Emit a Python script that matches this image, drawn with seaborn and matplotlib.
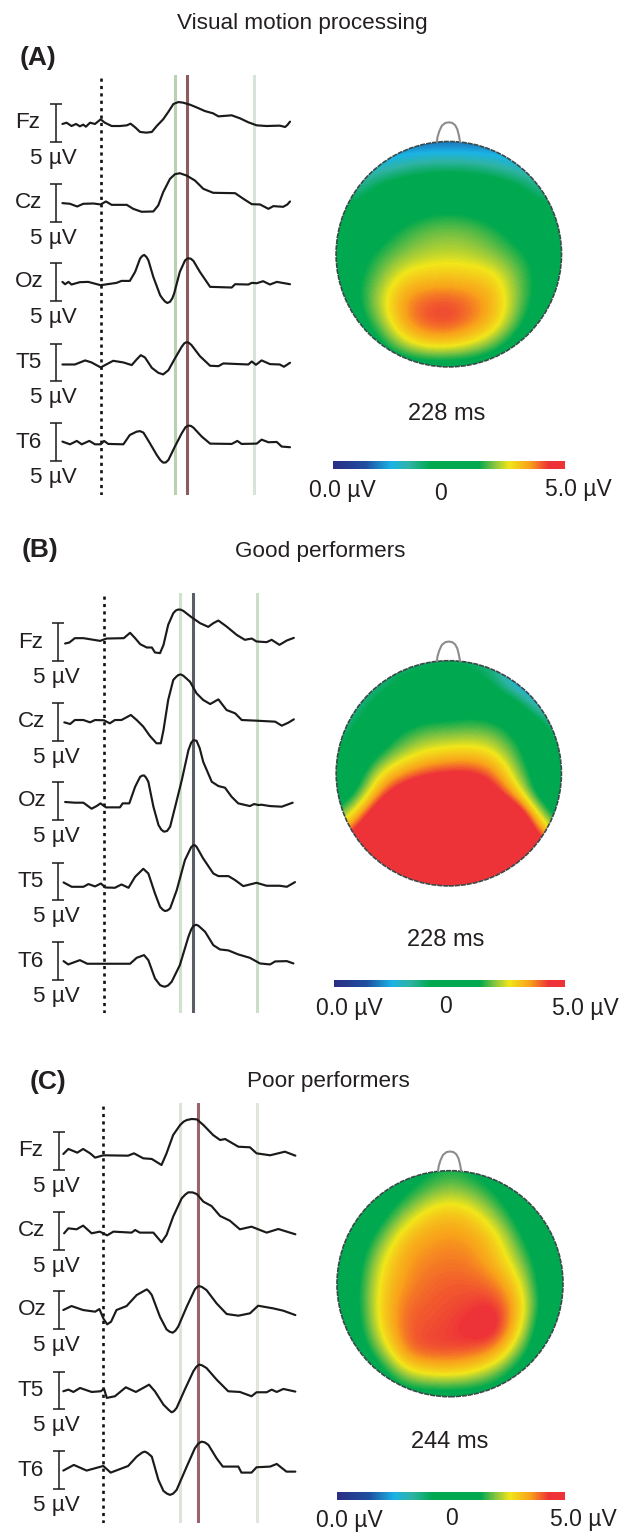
import numpy as np
import matplotlib
matplotlib.use("Agg")
import matplotlib.pyplot as plt
from matplotlib.colors import LinearSegmentedColormap
from matplotlib.patches import Circle
import seaborn as sns

sns.set_theme(style="white")
plt.rcParams["font.family"] = ["Liberation Sans", "DejaVu Sans"]

W, H = 631, 1533
CHANNELS = ["Fz", "Cz", "Oz", "T5", "T6"]
CHANNEL_OFFSETS = [0, -10.6, -21.1, -31.8, -42.4]

# ---- ERP traces (ms, microvolts) ----
A_Fz_T = [-101,-90,-77,-65,-55,-46,-39,-28,-15,0,11,29,51,69,79,91,104,121,135,148,165,179,192,205,218,236,253,275,297,311,346,368,390,412,438,473,487,493,500]
A_Fz_V = [-.13,.04,-.4,-.13,-.44,-.22,-.49,.04,-.13,.49,.04,-.4,-.4,-.31,-.09,-.57,-1.19,-1.28,-1.19,-.4,.49,1.5,2.52,2.78,2.7,2.43,2.08,1.59,1.28,.88,1.02,.62,.09,-.31,-.4,-.35,-.53,-.27,.18]
A_Cz_T = [-101,-81,-62,-46,-19,0,14,29,69,86,108,139,152,165,183,196,209,227,249,271,297,355,377,399,421,443,456,482,493,500]
A_Cz_V = [-.04,-.13,-.49,-.13,-.09,-.22,.18,-.27,-.27,-.8,-1.19,-1.15,-.35,1.41,3.18,3.8,3.93,3.62,2.96,1.86,1.33,1.28,.53,-.18,-.22,-.8,-.44,-.53,-.22,.18]
A_Oz_T = [-101,-94,-85,-77,-55,-33,0,42,55,77,91,104,110,115,121,126,139,157,163,170,176,183,189,194,209,223,231,238,245,262,289,346,355,390,399,412,429,447,465,500]
A_Oz_V = [0,-.31,0,-.35,-.04,0,-.44,-.13,.13,.13,1.33,3.09,3.45,3.58,3.3,2.87,.66,-1.77,-2.2,-2.61,-2.8,-2.65,-2.2,-1.55,1.33,2.87,3.14,3.08,2.78,1.33,-.66,-.75,-.31,-.35,-.13,-.18,.09,-.35,0,-.31]
A_T5_T = [-101,-68,-41,-24,0,33,60,82,95,106,117,135,152,165,179,196,214,221,227,233,240,262,289,311,324,390,399,410,425,447,473,484,500]
A_T5_V = [-.27,-.27,.27,0,-.66,.22,0,-.35,.4,.97,.66,-.71,-1.37,-1.59,-1.02,.53,2.08,2.55,2.7,2.6,2.3,.84,-.44,-.49,-.13,-.27,.13,-.31,.27,-.22,-.27,-.57,-.04]
A_T6_T = [-101,-81,-63,-50,-30,-15,0,9,20,60,77,95,104,113,130,148,158,165,172,179,196,214,224,231,238,245,267,289,346,361,372,412,425,443,465,478,500]
A_T6_V = [.09,-.27,.18,-.27,.18,-.27,-.27,.18,-.22,-.27,.97,1.41,1.48,1.28,-.13,-1.68,-2.4,-2.7,-2.68,-2.34,-.57,1.19,2.0,2.21,2.18,1.94,.75,-.18,-.22,.18,-.22,-.18,.35,0,.04,-.57,-.66]

B_Fz_T = [-100,-89,-75,-53,-10,7,51,67,80,93,110,123,131,144,153,165,178,185,191,197,204,225,247,268,281,294,315,341,362,380,392,418,431,451,470,488]
B_Fz_V = [-.2,-.07,.51,.51,.15,.46,.51,1.22,.51,-.29,-.73,-.73,-1.39,-1.48,-.38,2.28,3.82,4.2,4.31,4.3,4.13,3.29,2.5,2.01,2.5,2.85,2.06,.95,.29,.46,.07,-.02,.29,-.38,.2,.55]
B_Cz_T = [-102,-87,-75,-53,-36,-23,0,15,28,45,69,84,101,118,135,146,153,165,178,185,191,197,204,221,238,255,273,294,315,337,354,392,440,457,474,488]
B_Cz_V = [-.07,-.29,.24,.24,-.07,.24,.2,-.2,.24,.24,.91,.24,-.64,-1.88,-2.85,-2.85,-1.08,2.9,5.55,5.95,6.21,6.3,6.12,5.33,3.78,2.9,2.36,2.98,1.57,1.13,.24,.15,.02,-.51,-.11,.33]
B_Oz_T = [-100,-75,-53,-32,-19,-9,5,41,48,65,80,93,98,103,108,114,127,140,147,154,162,170,183,200,217,224,230,238,246,255,277,294,311,328,345,375,386,397,405,427,457,485]
B_Oz_V = [-.15,-.24,-.24,-1.04,-.69,-.33,-.86,-.86,-.33,-.33,1.88,3.2,3.35,3.38,3.1,2.54,-.77,-3.2,-3.8,-4.09,-4.0,-3.43,-.77,2.76,6.74,7.7,8.07,7.98,7.0,5.19,2.54,1.97,1.75,.55,-.33,-.69,-.42,-.55,-.51,-.69,-.77,-.24]
B_T5_T = [-104,-83,-53,-40,-23,-8,3,28,45,63,80,101,114,131,144,151,157,163,170,187,208,224,230,234,238,255,281,294,320,337,358,392,418,452,470,491]
B_T5_V = [-.13,-.71,-.71,-.35,-.66,-.27,-.8,-.84,-.4,-.84,.62,1.68,1.06,-1.59,-3.36,-3.75,-3.93,-3.85,-3.58,-1.15,2.83,4.55,4.82,4.8,4.6,3.05,1.06,.71,.71,.18,-.62,-.18,-.57,-.57,-.71,-.09]
B_T6_T = [-104,-92,-62,-43,67,84,103,114,131,144,150,157,165,174,195,217,224,230,237,243,260,281,298,320,345,375,401,427,440,470,487]
B_T6_V = [.02,-.42,.15,-.33,-.33,.46,.82,.15,-2.28,-3.16,-3.3,-3.38,-3.2,-2.72,-.51,3.25,4.2,4.71,4.85,4.71,3.91,2.14,1.57,1.44,.91,.46,-.29,-.42,-.02,.02,-.29]

C_Fz_T = [-103,-90,-67,-52,-34,-21,0,64,79,103,125,150,163,180,198,207,215,228,241,258,283,301,314,348,378,395,430,468,495]
C_Fz_V = [-.4,.27,-.22,.27,-.31,-.88,-.57,-.62,-.31,-.97,-1.06,-1.86,-.31,2.12,3.45,3.9,4.11,4.25,4.2,3.45,2.12,1.46,1.59,.57,.49,-.31,-.57,-.09,-.62]
C_Cz_T = [-101,-90,-69,-52,-30,-9,10,26,73,82,94,129,150,163,180,202,211,219,230,241,258,279,301,326,352,382,421,451,495]
C_Cz_V = [-.33,.33,.2,.69,-.33,-.11,-.6,-.11,-.24,.11,-.24,-.24,-1.52,-.55,1.88,4.31,4.8,5.11,5.1,4.88,3.87,3.29,1.97,1.35,.2,.55,-.24,.24,-.46]
C_Oz_T = [-103,-82,-52,-21,-10,0,10,20,34,60,86,106,112,118,125,146,163,171,179,186,193,215,236,242,247,254,266,292,318,348,378,399,438,464,495]
C_Oz_V = [-.02,.51,-.02,-.24,.11,-1.13,-1.92,-1.57,-.02,.51,1.97,2.55,2.72,2.45,1.97,-.91,-2.59,-2.9,-3.03,-2.75,-2.23,.42,2.72,3.05,3.16,3.05,2.63,.86,-.55,-.77,-.46,.55,.2,-.11,-.69]
C_T5_T = [-103,-90,-77,-60,-30,-7,2,9,30,58,84,118,133,155,169,176,182,189,210,232,240,247,254,266,292,322,352,382,395,421,434,447,464,495]
C_T5_V = [-.11,.11,-.2,.33,-.2,-.11,.2,-.99,-.77,.42,-.2,.77,-.11,-1.88,-2.6,-2.9,-2.75,-2.32,.11,2.54,3.15,3.43,3.35,2.98,1.44,-.11,-.2,-.77,-.24,-.24,.11,-.2,.2,-.15]
C_T6_T = [-103,-76,-43,0,19,64,86,100,107,114,125,142,155,164,172,180,189,215,236,245,253,262,271,292,308,348,356,382,395,430,447,472,495]
C_T6_V = [-.04,.71,-.04,.57,-.31,.57,1.81,2.35,2.48,2.3,1.81,-1.28,-2.74,-3.1,-3.27,-3.1,-2.61,.49,2.92,3.55,3.8,3.7,3.36,1.59,.49,.49,-.31,-.31,.4,.49,.84,-.18,-.18]

# ---- Scalp potential grids (microvolts), rows from front to back ----
A_MAP = [
 [-3.5,-3.5,-3.5,-3.5,-3.5,-3.5,-3.5,-3.5,-3.5,-3.5,-3.5],
 [-2.5,-2.5,-2.4,-1.8,-1.5,-1.4,-1.5,-1.8,-2.4,-2.5,-2.5],
 [-1.6,-1.6,-.5,-.1,.1,.2,.1,-.1,-.5,-1.6,-1.6],
 [-.7,-.5,.4,.8,1.1,1.2,1.1,.8,.4,-.5,-.7],
 [.2,.5,1.0,1.5,1.8,1.9,1.8,1.5,1.0,.5,.2],
 [.4,1.0,1.5,1.9,2.2,2.3,2.2,1.9,1.5,1.0,.4],
 [.5,1.2,1.9,2.8,3.0,3.0,3.0,2.8,1.9,1.1,.4],
 [.5,1.2,2.4,3.6,4.0,4.1,3.8,3.3,2.0,1.0,.3],
 [.4,.9,2.0,3.6,4.2,4.3,3.9,3.2,1.7,.6,.3],
 [.3,.4,1.1,2.3,3.0,3.0,2.6,1.8,.7,.3,.3],
 [.2,.2,.3,.4,.5,.5,.5,.3,.2,.2,.2],
]
B_MAP = [
 [-1.5,-1.5,-1.5,-1.4,-1.2,-1,-1.2,-1.6,-2.5,-3,-3],
 [-1.8,-1.8,-1.5,-.4,-.2,0,-.2,-1.0,-3,-3.2,-3.2],
 [-2,-1.5,-.1,.3,.5,.6,.8,.6,.0,-2.5,-3],
 [-1.8,-.4,.6,1.2,1.6,1.6,1.7,1.6,1.0,.3,-2],
 [-1,.2,1.1,2.0,2.5,2.7,2.8,2.5,1.5,.5,-1],
 [-.2,.8,2.6,3.5,4.1,4.4,4.4,3.8,2.0,.7,-.2],
 [.4,1.4,4.0,5.5,6,6,6,5,3.2,.7,.2],
 [1.5,3.6,6.5,7,7,7,7,7,6.5,2.6,.6],
 [3.5,6,7,7,7,7,7,7,7,5,2],
 [7,7,7,7,7,7,7,7,7,7,7],
 [7,7,7,7,7,7,7,7,7,7,7],
]
C_MAP = [
 [.8,.8,.8,.9,1.1,1.4,1.1,.8,.5,.5,.5],
 [.5,.5,.6,1.1,1.8,2.2,1.9,1.2,.6,.4,.4],
 [.3,.4,1.0,2.1,3.0,3.2,2.9,2.0,.9,.3,.3],
 [.2,.7,1.8,3.2,3.5,3.6,3.5,2.9,1.5,.5,.2],
 [.3,1.0,2.6,3.5,3.7,3.8,3.7,3.2,2.1,.8,.3],
 [.4,1.2,2.9,3.6,3.9,4.0,4.0,3.8,2.8,.9,.3],
 [.4,1.2,3.0,3.9,4.0,4.1,4.2,4.4,3.3,1.0,.3],
 [.4,1.0,2.9,4.0,4.1,4.2,4.5,4.8,2.9,.6,.3],
 [.3,.7,2.0,3.9,4.2,4.2,4.1,3.6,1.8,.4,.3],
 [.3,.4,.8,2.2,2.7,2.8,2.5,1.7,.7,.4,.3],
 [.3,.4,.5,.6,.6,.6,.6,.6,.5,.4,.3],
]
NOSE_X = [-.106,-.1,-.085,-.062,-.03,0,.03,.056,.075,.088,.1]
NOSE_Y = [.997,1.04,1.09,1.14,1.165,1.17,1.165,1.145,1.11,1.06,.997]

COLOR_STOPS = [(0,"#2b2e83"),(.14,"#1f4fa0"),(.25,"#1ab3e6"),(.33,"#2fb3a3"),(.42,"#00a94f"),
               (.63,"#00a94f"),(.70,"#8dc63f"),(.76,"#f2e61a"),(.85,"#f9a11b"),(.93,"#ee3338"),(1,"#ee3338")]
CMAP = LinearSegmentedColormap.from_list("erp", COLOR_STOPS)

PANELS = [
 dict(tag="(A)", tag_xy=(20,56), title="Visual motion processing", title_xy=(302,22),
      traces=[(A_Fz_T,A_Fz_V),(A_Cz_T,A_Cz_V),(A_Oz_T,A_Oz_V),(A_T5_T,A_T5_V),(A_T6_T,A_T6_V)],
      x0=100.67, s=.3787, top=75, bot=495, c0=123, lbl_x=15, uv_x=30, bar_t=-119,
      marks=[(197,"#b9d0b2"),(228,"#8d5a5e"),(406,"#d6e4d9")],
      grid=A_MAP, ms="228 ms", ms_xy=(447,413), head=(448.8,254.2,112.7),
      cb=(333,565,461,469), cb_lbl=[(342,489),(440,492),(578,488)]),
 dict(tag="(B)", tag_xy=(22,549), title="Good performers", title_xy=(320,550),
      traces=[(B_Fz_T,B_Fz_V),(B_Cz_T,B_Cz_V),(B_Oz_T,B_Oz_V),(B_T5_T,B_T5_V),(B_T6_T,B_T6_V)],
      x0=104, s=.389, top=593, bot=1013, c0=642, lbl_x=18, uv_x=33, bar_t=-118,
      marks=[(196,"#cfe3cb"),(228,"#5a5f66"),(393,"#c9dfc6")],
      grid=B_MAP, ms="228 ms", ms_xy=(446,939), head=(448.8,773.3,112.6),
      cb=(334,565,980,987), cb_lbl=[(349,1007),(445,1005),(585,1007)]),
 dict(tag="(C)", tag_xy=(30,1080), title="Poor performers", title_xy=(328,1080),
      traces=[(C_Fz_T,C_Fz_V),(C_Cz_T,C_Cz_V),(C_Oz_T,C_Oz_V),(C_T5_T,C_T5_V),(C_T6_T,C_T6_V)],
      x0=103.3, s=.388, top=1103, bot=1523, c0=1151, lbl_x=18, uv_x=33, bar_t=-115,
      marks=[(198,"#dde4da"),(244,"#98666a"),(397,"#e1e6dc")],
      grid=C_MAP, ms="244 ms", ms_xy=(450,1441), head=(450,1283.7,113),
      cb=(337,565,1492,1500), cb_lbl=[(349,1519),(452,1517),(583,1518)]),
]

INK = "#231f20"
PX_UV = 7.53
fig = plt.figure(figsize=(W/100, H/100), dpi=100, facecolor="white")

def ax_px(l, r, t, b):
    a = fig.add_axes([l/W, 1-b/H, (r-l)/W, (b-t)/H])
    a.set_axis_off()
    return a

def label(x, y, s, size=16.2, ha="center", **kw):
    fig.text(x/W, 1-(y+1.5)/H, s, fontsize=size, ha=ha, va="center", color=INK, **kw)

for p in PANELS:
    label(*p["tag_xy"], p["tag"], size=19, ha="left", fontweight="bold")
    label(*p["title_xy"], p["title"], size=16.2)

    # traces
    ax = ax_px(0, 310, p["top"], p["bot"])
    ax.set_xlim(-p["x0"]/p["s"], (310-p["x0"])/p["s"])
    ax.set_ylim((p["c0"]-p["bot"])/PX_UV, (p["c0"]-p["top"])/PX_UV)
    ax.axvline(0, color="#111111", lw=1.9, linestyle=(0, (1.2, 1.6)), zorder=1)
    for t, col in p["marks"]:
        ax.axvline(t, color=col, lw=2.2, zorder=1)
    for name, off, (tt, vv) in zip(CHANNELS, CHANNEL_OFFSETS, p["traces"]):
        yy = np.array(vv) + off
        sns.lineplot(x=tt, y=yy, ax=ax, color="#1a1a1a", lw=1.55, sort=False, estimator=None,
                     errorbar=None, zorder=3)
        ax.errorbar([p["bar_t"]], [off], yerr=2.5, color="#1a1a1a", lw=1.1, capsize=4, capthick=1.1, zorder=3)
        cy = p["c0"] - off*PX_UV
        label(p["lbl_x"], cy-1.5, name, ha="left")
        label(p["uv_x"], cy+34, "5 µV", ha="left")
    ax.set_axis_off()

    # scalp map
    cx, cy, r = p["head"]
    pad = 1.25
    m = ax_px(cx-pad*r, cx+pad*r, cy-pad*r, cy+pad*r)
    m.set_xlim(-pad, pad); m.set_ylim(-pad, pad)
    im = m.imshow(np.array(p["grid"]), extent=[-1.1,1.1,-1.1,1.1], origin="upper", cmap=CMAP,
                  vmin=-5, vmax=5, interpolation="bicubic", zorder=1)
    clip = Circle((0,0), 1, transform=m.transData)
    im.set_clip_path(clip)
    m.add_patch(Circle((0,0), 1, fill=False, ec="#3a4a48", lw=1.2, linestyle=(0,(3,.6)), zorder=2))
    sns.lineplot(x=NOSE_X, y=NOSE_Y, ax=m, color="#8c8c8c", lw=1.5, sort=False, estimator=None, errorbar=None)
    m.set_xlim(-pad, pad); m.set_ylim(-pad, pad)
    m.set_axis_off()
    label(*p["ms_xy"], p["ms"], size=17)

    # colour bar
    l, rr, t, b = p["cb"]
    c = ax_px(l, rr, t, b)
    c.imshow(np.linspace(-5, 5, 256)[None, :], aspect="auto", cmap=CMAP, vmin=-5, vmax=5)
    c.set_axis_off()
    for (x, y), s in zip(p["cb_lbl"], ["0.0 µV", "0", "5.0 µV"]):
        label(x, y, s, size=16.5)

fig.savefig("out.png", dpi=100, facecolor="white")
